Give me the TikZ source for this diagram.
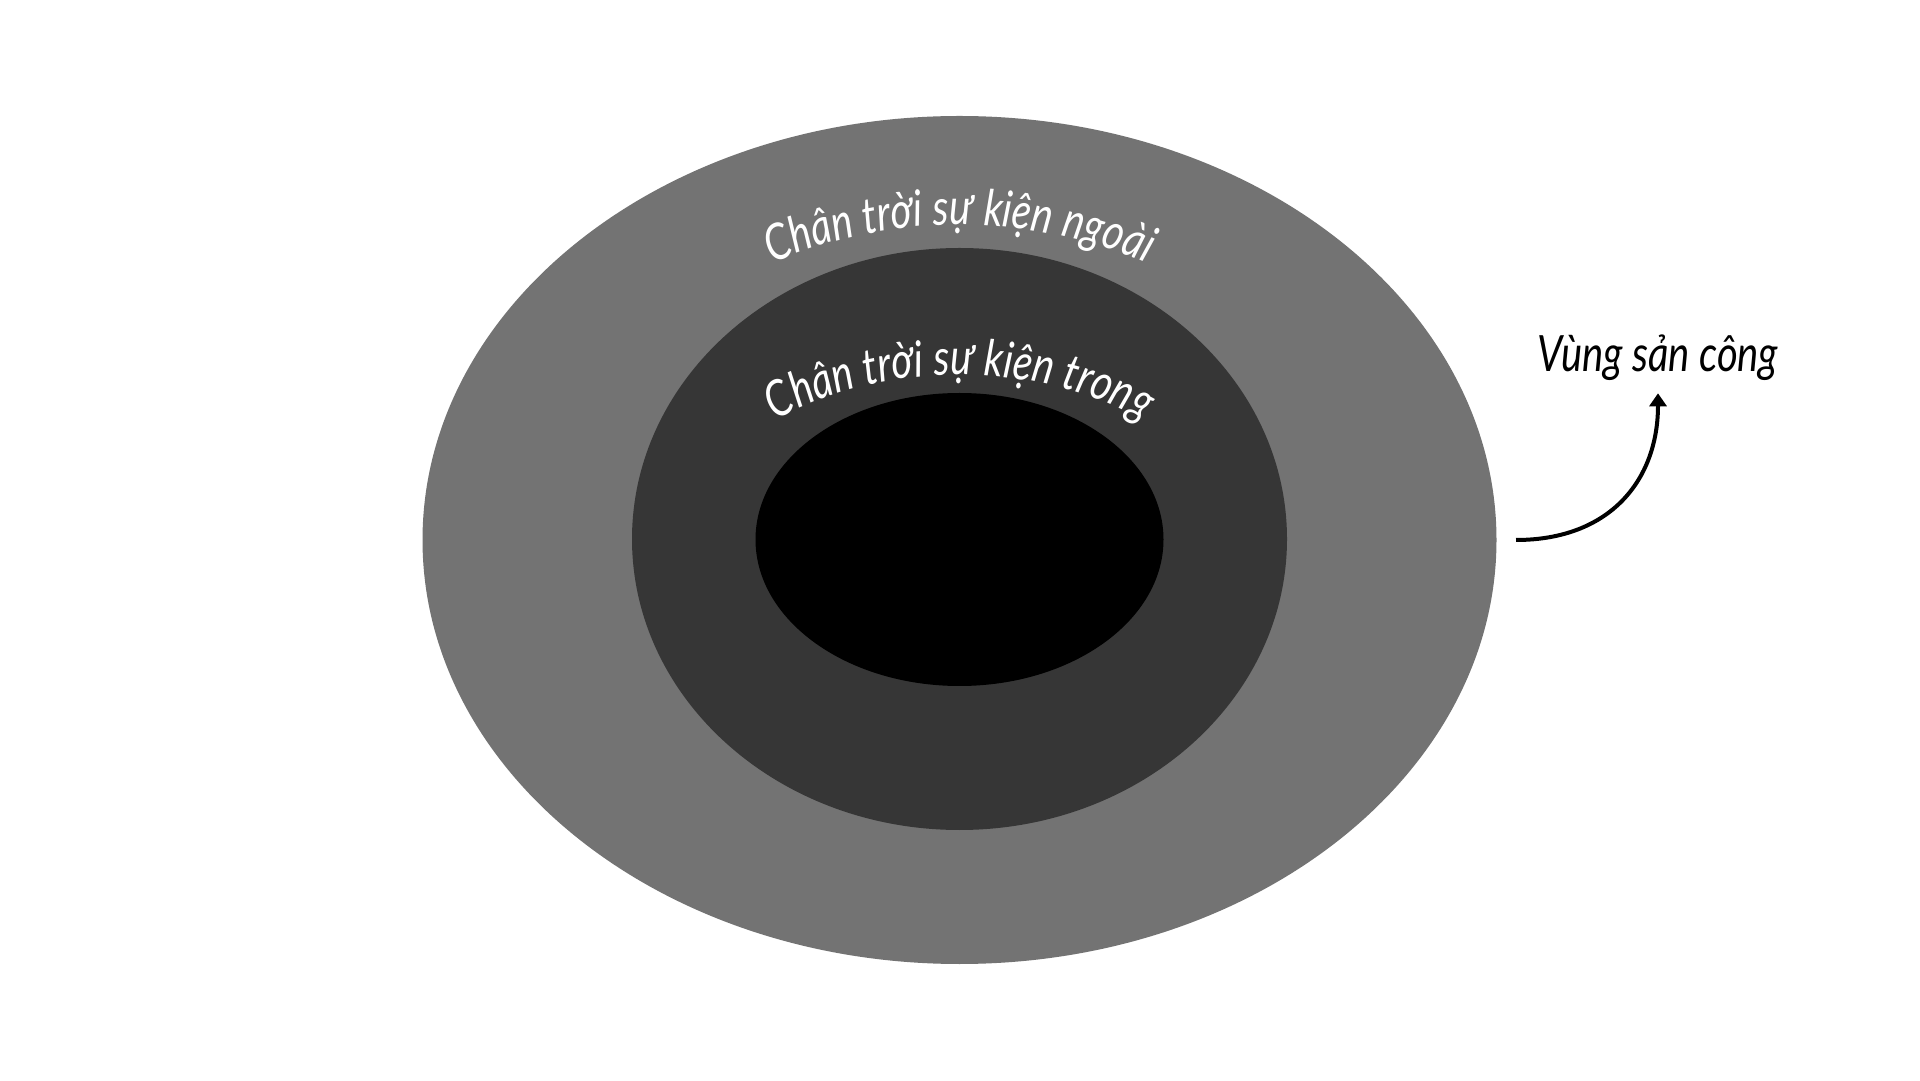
\documentclass[tikz,border=0pt]{standalone}
\usepackage{fontspec}
\usetikzlibrary{decorations.text,arrows.meta}
\newfontfamily\handfont{Lato}[FakeStretch=0.8]
\newcommand\arcfont{\handfont\itshape\fontsize{50}{54}\selectfont}
\definecolor{outerc}{HTML}{737373}
\definecolor{midc}{HTML}{363636}
\tikzset{
  arctext/.style={decorate,decoration={text along path,text={#1},text align=center,text color=white}},
  pointer/.style={line width=4pt,-{Triangle[width=17pt,length=13pt]}}
}
\begin{document}
\begin{tikzpicture}[x=1pt,y=1pt]
\fill[white] (0,0) rectangle (1920,1080);
\useasboundingbox (0,0) rectangle (1920,1080);
% horizons
\fill[outerc] (959.5,540) ellipse[x radius=537,y radius=424];
\fill[midc] (959.5,541) ellipse[x radius=327.5,y radius=291];
\fill[black] (959.5,540.5) ellipse[x radius=204,y radius=146.5];
% curved labels
\path[arctext={|\arcfont|Chân trời sự kiện ngoài}]
  (959.5,540) ++(175:390 and 315) arc[start angle=175,end angle=5,x radius=390,y radius=315];
\path[arctext={|\arcfont|Chân trời sự kiện trong}]
  (959.5,540) ++(178:265 and 165) arc[start angle=178,end angle=2,x radius=265,y radius=165];
% ergosphere label and pointer
\node[anchor=base,inner sep=12pt,font=\handfont\itshape\fontsize{50}{54}\selectfont] (lbl) at (1658,708) {Vùng sản công};
\coordinate (src) at (1516,540);
\draw[pointer] (src) .. controls (1610,540) and (1658,600) .. (lbl.south);
\end{tikzpicture}
\end{document}
